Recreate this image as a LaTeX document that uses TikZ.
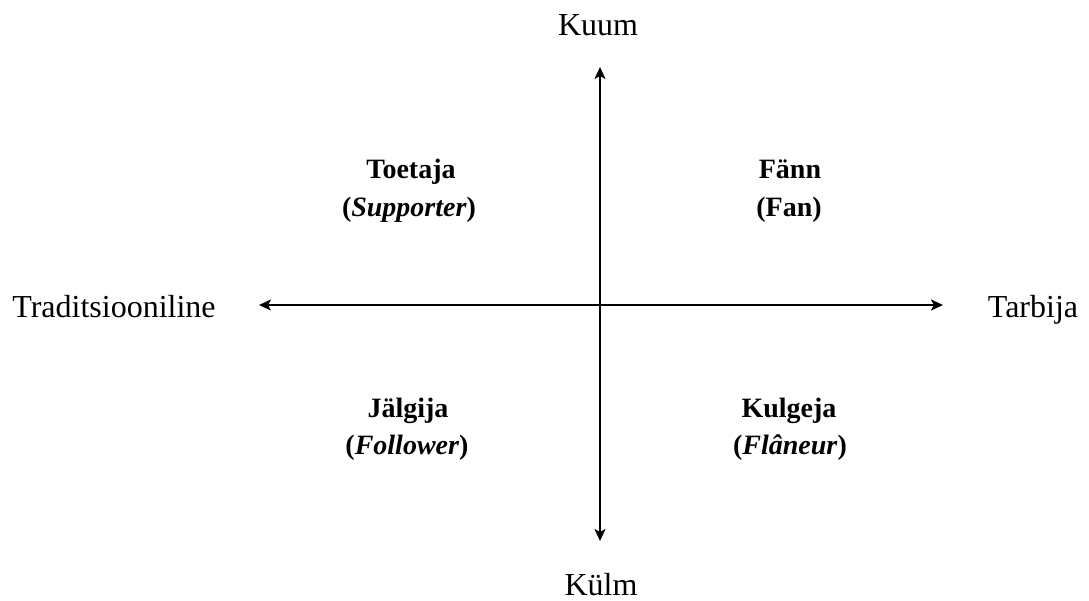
\documentclass[tikz,border=0pt]{standalone}
\usepackage{fontspec}
\setmainfont{Liberation Serif}
\usetikzlibrary{arrows.meta}
\tikzset{
  axis/.style={line width=2.2pt,{Stealth[length=12pt,width=11pt,inset=3pt]}-{Stealth[length=12pt,width=11pt,inset=3pt]}},
  axislabel/.style={anchor=base,inner sep=0pt,font=\fontsize{32}{38}\selectfont},
  quadlabel/.style={anchor=base,inner sep=0pt,font=\fontsize{28}{34}\selectfont\bfseries},
}
\begin{document}
\begin{tikzpicture}[x=1pt,y=-1pt]
\useasboundingbox (0,0) rectangle (1089,600);
\coordinate (top) at (600,67);
\coordinate (bot) at (600,541);
\coordinate (lft) at (259,305);
\coordinate (rgt) at (943,305);
\draw[axis] (bot) -- (top);
\draw[axis] (lft) -- (rgt);
\node[axislabel] (kuum) at (598,35) {Kuum};
\node[axislabel] (kulm) at (601,595) {Külm};
\node[axislabel] (trad) at (114,317) {Traditsiooniline};
\node[axislabel] (tarb) at (1033,317) {Tarbija};
\node[quadlabel] (toe) at (411,178) {Toetaja};
\node[quadlabel] (sup) at (409,216) {(\textit{Supporter})};
\node[quadlabel] (fann) at (790,178) {Fänn};
\node[quadlabel] (fan) at (789,216) {(Fan)};
\node[quadlabel] (jal) at (408,417) {Jälgija};
\node[quadlabel] (fol) at (407,454) {(\textit{Follower})};
\node[quadlabel] (kul) at (789,417) {Kulgeja};
\node[quadlabel] (fla) at (790,454) {(\textit{Flâneur})};
\end{tikzpicture}
\end{document}
